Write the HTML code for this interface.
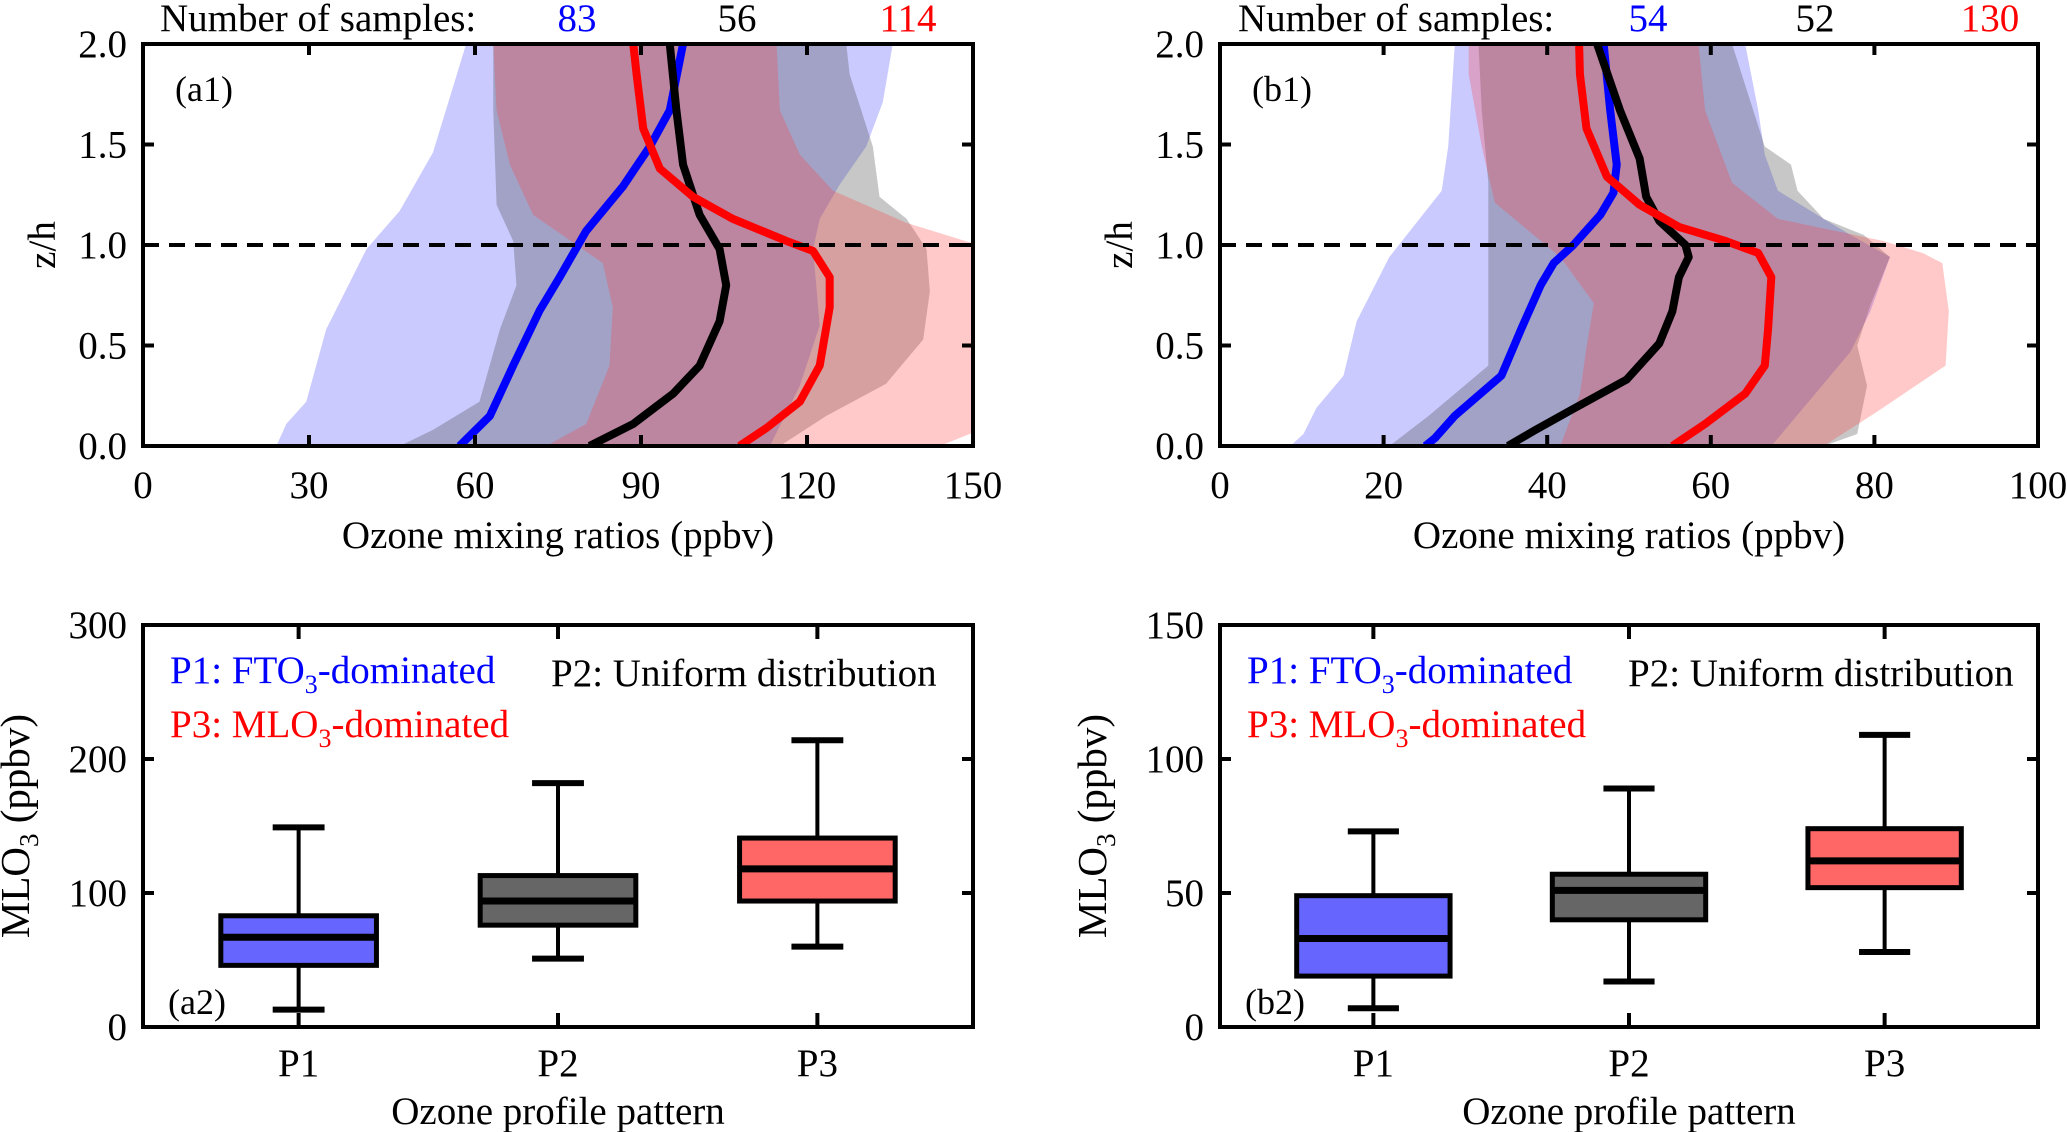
<!DOCTYPE html>
<html><head><meta charset="utf-8"><style>
html,body{margin:0;padding:0;background:#fff;}
svg{display:block;font-family:"Liberation Serif",serif;}
</style></head><body>
<svg id="fig" width="2067" height="1132" viewBox="0 0 2067 1132" xmlns="http://www.w3.org/2000/svg"></svg>
<script>
// ---------- profile data (a1) ----------
const a1BlueLineX=[57.2,62.7,66.9,71.7,75.3,80.1,86.7,91.6,95.2,97.6];
const a1BlueLineZ=[0,0.15,0.40,0.675,0.84,1.07,1.29,1.49,1.67,2.0];
const a1BlackLineX=[80.7,88.6,95.8,100.6,104.2,105.4,104.2,100.6,97.6,96.4,95.2];
const a1BlackLineZ=[0,0.11,0.26,0.40,0.62,0.80,0.98,1.15,1.40,1.67,2.0];
const a1RedLineX=[107.8,112.7,118.7,122.3,124.1,124.1,121.1,116.3,106.6,99.4,93.4,90.4,89.2,88.6];
const a1RedLineZ=[0,0.09,0.22,0.40,0.69,0.84,0.97,1.02,1.13,1.24,1.38,1.58,1.85,2.0];
const a1BlueLoX=[24.1,25.9,29.5,33.1,40.4,46.4,52.4,58.4];
const a1BlueLoZ=[0,0.11,0.22,0.58,0.98,1.17,1.46,2.0];
const a1BlueHiX=[113.3,118.7,122.3,121.1,122.3,125.9,130.7,133.7,135.5];
const a1BlueHiZ=[0,0.3,0.6,0.98,1.13,1.3,1.49,1.71,2.0];
const a1GrayLoX=[46.4,52.4,60.8,64.5,67.5,66.9,63.9,63.3,63.3];
const a1GrayLoZ=[0,0.08,0.22,0.58,0.80,1.02,1.20,1.67,2.0];
const a1GrayHiX=[115.1,123.5,134.3,141.0,142.2,141.6,138.0,133.1,131.9,127.7,127.1];
const a1GrayHiZ=[0,0.15,0.31,0.53,0.77,0.98,1.13,1.24,1.49,1.85,2.0];
const a1RedLoX=[72.9,80.1,84.3,84.9,83.1,70.5,66.3,63.9,63.3];
const a1RedLoZ=[0,0.11,0.40,0.69,0.91,1.15,1.40,1.67,2.0];
const a1RedHiX=[144.0,151.2,151.2,138.0,124.7,118.7,115.1,114.5];
const a1RedHiZ=[0,0.08,0.998,1.11,1.27,1.45,1.67,2.0];
// ---------- profile data (b1) ----------
const b1BlueLineX=[25.1,26.3,28.7,34.4,36.8,39.2,40.8,43.2,46.5,48.1,48.5,47.7,46.9];
const b1BlueLineZ=[0,0.04,0.15,0.35,0.58,0.80,0.91,1.0,1.15,1.26,1.40,1.67,2.0];
const b1BlackLineX=[35.2,38.4,43.2,49.7,53.7,55.3,56.1,57.3,56.9,53.7,52.1,51.3,48.9,46.1];
const b1BlackLineZ=[0,0.076,0.185,0.33,0.51,0.67,0.84,0.94,1.0,1.12,1.24,1.43,1.67,2.0];
const b1RedLineX=[55.3,59.3,64.2,66.6,67.0,67.4,65.8,61.8,56.1,51.3,47.3,44.8,44.0,43.9];
const b1RedLineZ=[0,0.11,0.26,0.40,0.58,0.84,0.96,1.02,1.09,1.20,1.34,1.58,1.85,2.0];
const b1BlueLoX=[8.6,10.2,11.8,15.1,16.7,20.7,27.1,27.9,28.7];
const b1BlueLoZ=[0,0.06,0.19,0.35,0.62,0.94,1.27,1.49,2.0];
const b1BlueHiX=[67.4,73.8,77.1,79.5,81.9,77.1,73.8,68.2,66.6,65.8,64.2];
const b1BlueHiZ=[0,0.31,0.47,0.67,0.94,1.05,1.13,1.27,1.45,1.67,2.0];
const b1GrayLoX=[20.7,25.5,32.8,32.8,32.8,32.0,31.6];
const b1GrayLoZ=[0,0.15,0.40,0.94,1.31,1.67,2.0];
const b1GrayHiX=[73.8,77.9,79.1,77.9,79.5,81.9,78.7,73.8,70.6,69.8,66.6,62.6];
const b1GrayHiZ=[0,0.06,0.3,0.5,0.7,0.94,1.05,1.13,1.27,1.4,1.49,2.0];
const b1RedLoX=[41.6,44.0,44.8,45.7,41.6,33.6,32.0,30.4,30.4];
const b1RedLoZ=[0,0.26,0.49,0.71,0.94,1.21,1.49,1.85,2.0];
const b1RedHiX=[73.8,80.3,88.7,89.1,88.3,85.9,81.1,68.2,62.6,59.3,58.5];
const b1RedHiZ=[0,0.17,0.40,0.67,0.91,0.96,1.02,1.13,1.31,1.67,2.0];
// ---------- tick labels ----------
const a1XTicks=[0,30,60,90,120,150];
const b1XTicks=[0,20,40,60,80,100];
const zTicks=[0.0,0.5,1.0,1.5,2.0];
const a1Samples=["83","56","114"];
const b1Samples=["54","52","130"];
// ---------- box data ----------
const categories=["P1","P2","P3"];
const a2Min=[13,51,60], a2Q1=[46,76,94], a2Med=[67,94,118], a2Q3=[83,113,141], a2Max=[149,182,214];
const b2Min=[7,17,28], b2Q1=[19,40,52], b2Med=[33,51,62], b2Q3=[49,57,74], b2Max=[73,89,109];
const a2YTicks=[0,100,200,300];
const b2YTicks=[0,50,100,150];

const NS="http://www.w3.org/2000/svg";
const svg=document.getElementById('fig');
const FS=39;
function mk(tag,attrs,parent){const e=document.createElementNS(NS,tag);for(const k in attrs)e.setAttribute(k,attrs[k]);(parent||svg).appendChild(e);return e;}
function txt(s,x,y,size,fill,anchor,parent){const t=mk('text',{x:x,y:y,'font-size':size,fill:fill||'#000','text-anchor':anchor||'start'},parent);t.textContent=s;return t;}

function profilePanel(id,L,R,T,B,xmax,xticks,bands,lines,samples,label){
  const g=mk('g',{});
  
  
  const sx=v=>L+v/xmax*(R-L), sy=z=>B-z/2*(B-T);
  const cp=mk('clipPath',{id:'clip-'+id},g);mk('rect',{x:L,y:T,width:R-L,height:B-T},cp);
  const cg=mk('g',{'clip-path':'url(#clip-'+id+')'},g);
  bands.forEach(b=>{
    let pts=[];b.loX.forEach((v,i)=>pts.push(sx(v)+','+sy(b.loZ[i])));
    for(let i=b.hiX.length-1;i>=0;i--)pts.push(sx(b.hiX[i])+','+sy(b.hiZ[i]));
    const p=mk('polygon',{points:pts.join(' '),fill:b.color},cg);
    
    
  });
  const dl=mk('line',{x1:L,x2:R,y1:sy(1),y2:sy(1),stroke:'#000','stroke-width':4,'stroke-dasharray':'16 10'},g);
  
  
  lines.forEach(l=>{
    const p=mk('polyline',{points:l.x.map((v,i)=>sx(v)+','+sy(l.z[i])).join(' '),fill:'none',stroke:l.color,'stroke-width':8,'stroke-linejoin':'round'},cg);
    
    
  });
  xticks.forEach(v=>{
    mk('line',{x1:sx(v),x2:sx(v),y1:B,y2:B-11,stroke:'#000','stroke-width':4},g);
    mk('line',{x1:sx(v),x2:sx(v),y1:T,y2:T+11,stroke:'#000','stroke-width':4},g);
    const t=txt(String(v),sx(v),498,FS,'#000','middle',g);
    
    
  });
  zTicks.forEach(v=>{
    mk('line',{x1:L,x2:L+11,y1:sy(v),y2:sy(v),stroke:'#000','stroke-width':4},g);
    mk('line',{x1:R,x2:R-11,y1:sy(v),y2:sy(v),stroke:'#000','stroke-width':4},g);
    const t=txt(v.toFixed(1),L-16,sy(v)+13,FS,'#000','end',g);
    
    
  });
  const fr=mk('rect',{x:L,y:T,width:R-L,height:B-T,fill:'none',stroke:'#000','stroke-width':4},g);
  
  
  const xt=txt('Ozone mixing ratios (ppbv)',(L+R)/2,548,FS,'#000','middle',g);
  
  
  const yt=txt('z/h',0,0,FS,'#000','middle',g);
  yt.setAttribute('transform','translate('+(L-88)+','+((T+B)/2)+') rotate(-90)');
  
  
  const st=txt('Number of samples:',samples.x0,31,FS,'#000','start',g);
  
  
  const cols=['#0000ff','#000','#ff0000'];
  samples.vals.forEach((s,i)=>{const t=txt(s,samples.xs[i],31,FS,cols[i],'middle',g);
    
    });
  const pl=txt(label,L+32,101,36,'#000','start',g);
  
  
}

const bandCols={blue:'rgba(60,60,255,0.27)',gray:'rgba(70,70,70,0.30)',red:'rgba(255,60,60,0.28)'};
profilePanel('a1',143,973,44,446,150,a1XTicks,
 [{name:'p1-range-band',loX:a1BlueLoX,loZ:a1BlueLoZ,hiX:a1BlueHiX,hiZ:a1BlueHiZ,color:bandCols.blue},
  {name:'p2-range-band',loX:a1GrayLoX,loZ:a1GrayLoZ,hiX:a1GrayHiX,hiZ:a1GrayHiZ,color:bandCols.gray},
  {name:'p3-range-band',loX:a1RedLoX,loZ:a1RedLoZ,hiX:a1RedHiX,hiZ:a1RedHiZ,color:bandCols.red}],
 [{name:'p1-mean-line',x:a1BlueLineX,z:a1BlueLineZ,color:'#0000ff'},
  {name:'p2-mean-line',x:a1BlackLineX,z:a1BlackLineZ,color:'#000'},
  {name:'p3-mean-line',x:a1RedLineX,z:a1RedLineZ,color:'#ff0000'}],
 {x0:160,xs:[577,737,908],vals:a1Samples},'(a1)');
profilePanel('b1',1220,2038,44,446,100,b1XTicks,
 [{name:'p1-range-band',loX:b1BlueLoX,loZ:b1BlueLoZ,hiX:b1BlueHiX,hiZ:b1BlueHiZ,color:bandCols.blue},
  {name:'p2-range-band',loX:b1GrayLoX,loZ:b1GrayLoZ,hiX:b1GrayHiX,hiZ:b1GrayHiZ,color:bandCols.gray},
  {name:'p3-range-band',loX:b1RedLoX,loZ:b1RedLoZ,hiX:b1RedHiX,hiZ:b1RedHiZ,color:bandCols.red}],
 [{name:'p1-mean-line',x:b1BlueLineX,z:b1BlueLineZ,color:'#0000ff'},
  {name:'p2-mean-line',x:b1BlackLineX,z:b1BlackLineZ,color:'#000'},
  {name:'p3-mean-line',x:b1RedLineX,z:b1RedLineZ,color:'#ff0000'}],
 {x0:1238,xs:[1648,1815,1990],vals:b1Samples},'(b1)');

function boxPanel(id,L,R,T,B,ymax,yticks,mn,q1,md,q3,mx,label){
  const g=mk('g',{});
  
  
  const sx=c=>L+(c-0.4)/3.2*(R-L), sy=v=>B-v/ymax*(B-T);
  const hw=0.6/3.2*(R-L)/2, cw=0.2/3.2*(R-L)/2;
  const fills=['#6666ff','#666666','#ff6666'];
  categories.forEach((c,i)=>{
    const x=sx(i+1);
    const bg=mk('g',{},g);
    
    
    mk('line',{x1:x,x2:x,y1:sy(mx[i]),y2:sy(q3[i]),stroke:'#000','stroke-width':4},bg);
    mk('line',{x1:x,x2:x,y1:sy(q1[i]),y2:sy(mn[i]),stroke:'#000','stroke-width':4},bg);
    mk('line',{x1:x-cw,x2:x+cw,y1:sy(mx[i]),y2:sy(mx[i]),stroke:'#000','stroke-width':6},bg);
    mk('line',{x1:x-cw,x2:x+cw,y1:sy(mn[i]),y2:sy(mn[i]),stroke:'#000','stroke-width':6},bg);
    mk('rect',{x:x-hw,y:sy(q3[i]),width:2*hw,height:sy(q1[i])-sy(q3[i]),fill:fills[i],stroke:'#000','stroke-width':5},bg);
    mk('line',{x1:x-hw,x2:x+hw,y1:sy(md[i]),y2:sy(md[i]),stroke:'#000','stroke-width':7},bg);
    mk('line',{x1:x,x2:x,y1:B,y2:B-14,stroke:'#000','stroke-width':4},g);
    mk('line',{x1:x,x2:x,y1:T,y2:T+14,stroke:'#000','stroke-width':4},g);
    const t=txt(c,x,1076,FS,'#000','middle',g);
    
    
  });
  yticks.forEach(v=>{
    mk('line',{x1:L,x2:L+11,y1:sy(v),y2:sy(v),stroke:'#000','stroke-width':4},g);
    mk('line',{x1:R,x2:R-11,y1:sy(v),y2:sy(v),stroke:'#000','stroke-width':4},g);
    const t=txt(String(v),L-16,sy(v)+13,FS,'#000','end',g);
    
    
  });
  const fr=mk('rect',{x:L,y:T,width:R-L,height:B-T,fill:'none',stroke:'#000','stroke-width':4},g);
  
  
  const xt=txt('Ozone profile pattern',(L+R)/2,1124,FS,'#000','middle',g);
  
  
  const yt=mk('text',{'font-size':41,'text-anchor':'middle',transform:'translate('+(L-114)+','+((T+B)/2)+') rotate(-90)'},g);
  yt.innerHTML='MLO<tspan font-size="27" dy="9">3</tspan><tspan dy="-9"> (ppbv)</tspan>';
  
  
  const l1=mk('text',{x:L+27,y:683,'font-size':FS,fill:'#0000ff'},g);
  l1.innerHTML='P1: FTO<tspan font-size="26" dy="10">3</tspan><tspan dy="-10">-dominated</tspan>';
  
  
  const l3=mk('text',{x:L+27,y:737,'font-size':FS,fill:'#ff0000'},g);
  l3.innerHTML='P3: MLO<tspan font-size="26" dy="10">3</tspan><tspan dy="-10">-dominated</tspan>';
  
  
  const l2=txt('P2: Uniform distribution',L+408,686,FS,'#000','start',g);
  
  
  const pl=txt(label,L+25,1014,36,'#000','start',g);
  
  
}
boxPanel('a2',143,973,625,1027,300,a2YTicks,a2Min,a2Q1,a2Med,a2Q3,a2Max,'(a2)');
boxPanel('b2',1220,2038,625,1027,150,b2YTicks,b2Min,b2Q1,b2Med,b2Q3,b2Max,'(b2)');
</script>
</body></html>
